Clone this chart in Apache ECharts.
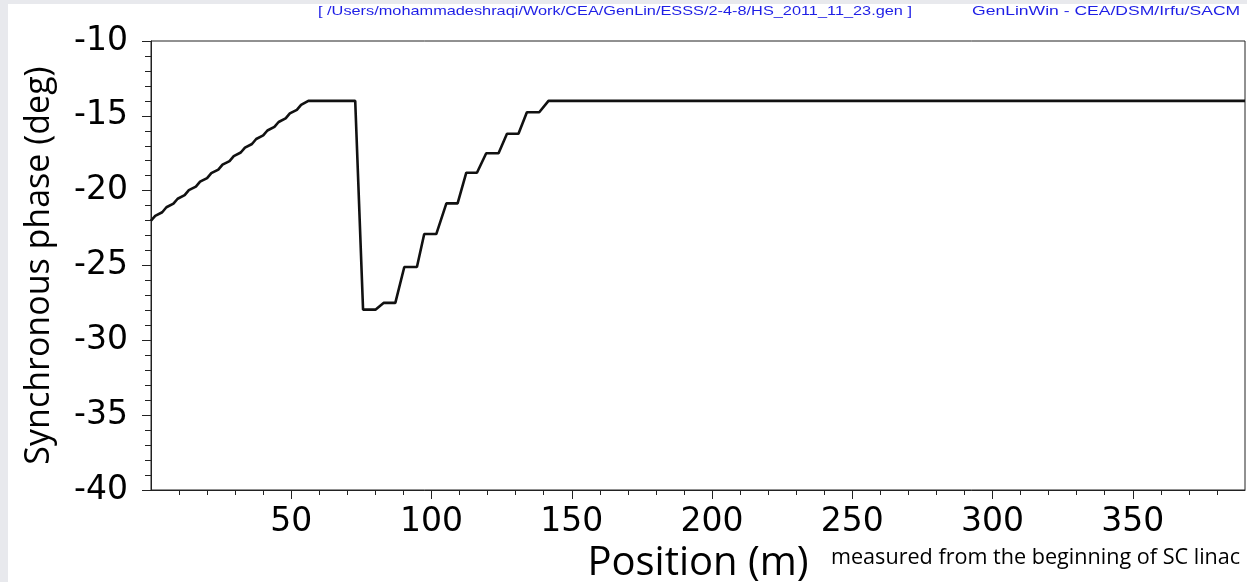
<!DOCTYPE html>
<html>
<head>
<meta charset="utf-8">
<script src="https://cdn.jsdelivr.net/npm/echarts@6/dist/echarts.min.js"></script>
<style>
html,body{margin:0;padding:0;background:#e8e9ed;}
#c{width:1247px;height:582px;}
</style>
</head>
<body>
<div id="c"></div>
<script>
// ---- data ----
// position along the SC linac (m)
var positions = [
  0, 1.5, 4.0, 5.5, 8.0, 9.5, 12.0, 13.5, 16.0, 17.5, 20.0, 21.5, 24.0, 25.5,
  28.0, 29.5, 32.0, 33.5, 36.0, 37.5, 40.0, 41.5, 44.0, 45.5, 48.0, 49.5,
  52.0, 53.5, 56.1,
  72.8, 75.6, 80.0, 82.9, 87.1, 90.3, 94.8, 97.4, 101.7, 105.3, 109.3,
  112.4, 116.2, 119.5, 123.9, 126.9, 131.0, 134.0, 138.4, 141.7, 390
];
// synchronous phase (deg)
var phases = [
  -22.00, -21.68, -21.44, -21.11, -20.87, -20.54, -20.30, -19.97, -19.73,
  -19.40, -19.16, -18.83, -18.59, -18.26, -18.02, -17.69, -17.45, -17.12,
  -16.88, -16.55, -16.31, -15.98, -15.74, -15.41, -15.17, -14.84, -14.60,
  -14.27, -14.00,
  -14.00, -27.95, -27.95, -27.50, -27.50, -25.10, -25.10, -22.90, -22.90,
  -20.85, -20.85, -18.80, -18.80, -17.50, -17.50, -16.20, -16.20, -14.76,
  -14.76, -14.00, -14.00
];
var xMajorTicks = [50, 100, 150, 200, 250, 300, 350];
var xMinorTicks = [10, 20, 30, 40, 60, 70, 80, 90, 110, 120, 130, 140, 160, 170, 180, 190,
                   210, 220, 230, 240, 260, 270, 280, 290, 310, 320, 330, 340, 360, 370, 380];
var yTicks = [-40, -35, -30, -25, -20, -15, -10];
var xTitle = 'Position (m)';
var yTitle = 'Synchronous phase (deg)';
var note = 'measured from the beginning of SC linac';
var fileLabel = '[ /Users/mohammadeshraqi/Work/CEA/GenLin/ESSS/2-4-8/HS_2011_11_23.gen ]';
var progLabel = 'GenLinWin - CEA/DSM/Irfu/SACM';

var points = positions.map(function (x, i) { return [x, phases[i]]; });

var chart = echarts.init(document.getElementById('c'), null, {renderer: 'canvas'});
var axisCol = '#222';
var option = {
  backgroundColor: '#e8e9ed',
  animation: false,
  grid: {
    left: 151, top: 41, width: 1094, height: 449,
    show: true, backgroundColor: '#fff', borderColor: axisCol, borderWidth: 1,
    containLabel: false, outerBoundsMode: 'none'
  },
  graphic: [
    {type: 'rect', z: -10, silent: true, shape: {x: 8, y: 4, width: 1239, height: 578}, style: {fill: '#fff'}},
    {type: 'text', left: 318, top: 5, scaleX: 1.255, style: {text: fileLabel, fill: '#1f1fe6', font: '13px "Liberation Sans"'}},
    {type: 'text', left: 972, top: 5, scaleX: 1.35, style: {text: progLabel, fill: '#1f1fe6', font: '13px "Liberation Sans"'}},
    {type: 'text', left: 831, top: 547, style: {text: note, fill: '#000', font: '21.6px "Open Sans"'}}
  ],
  xAxis: [{
    type: 'value', min: 0, max: 390,
    name: xTitle, nameLocation: 'middle', nameGap: 43,
    nameTextStyle: {fontFamily: 'Open Sans', fontSize: 40, color: '#000'},
    axisLine: {show: true, lineStyle: {color: axisCol, width: 1}},
    axisTick: {show: true, length: 9, customValues: xMajorTicks, lineStyle: {color: axisCol}},
    axisLabel: {show: true, customValues: xMajorTicks, margin: 16, color: '#000', fontFamily: 'DejaVu Sans', fontSize: 33},
    splitLine: {show: false}
  }, {
    type: 'value', min: 0, max: 390, position: 'bottom',
    axisLine: {show: false},
    axisTick: {show: true, length: 5, customValues: xMinorTicks, lineStyle: {color: axisCol}},
    axisLabel: {show: false},
    splitLine: {show: false}
  }],
  yAxis: [{
    type: 'value', min: -40, max: -10, interval: 5,
    name: yTitle, nameLocation: 'middle', nameGap: 95,
    nameTextStyle: {fontFamily: 'Open Sans', fontSize: 34, color: '#000'},
    axisLine: {show: true, lineStyle: {color: axisCol, width: 1}},
    axisTick: {show: true, length: 9, lineStyle: {color: axisCol}},
    minorTick: {show: true, splitNumber: 5, length: 6, lineStyle: {color: axisCol}},
    axisLabel: {show: true, customValues: yTicks, margin: 23, color: '#000', fontFamily: 'DejaVu Sans', fontSize: 33},
    splitLine: {show: false}
  }],
  series: [{
    type: 'line', xAxisIndex: 0, yAxisIndex: 0,
    data: points, showSymbol: false, symbol: 'none',
    lineStyle: {color: '#111', width: 2.6},
    z: 5
  }]
};
chart.setOption(option);
</script>
</body>
</html>
